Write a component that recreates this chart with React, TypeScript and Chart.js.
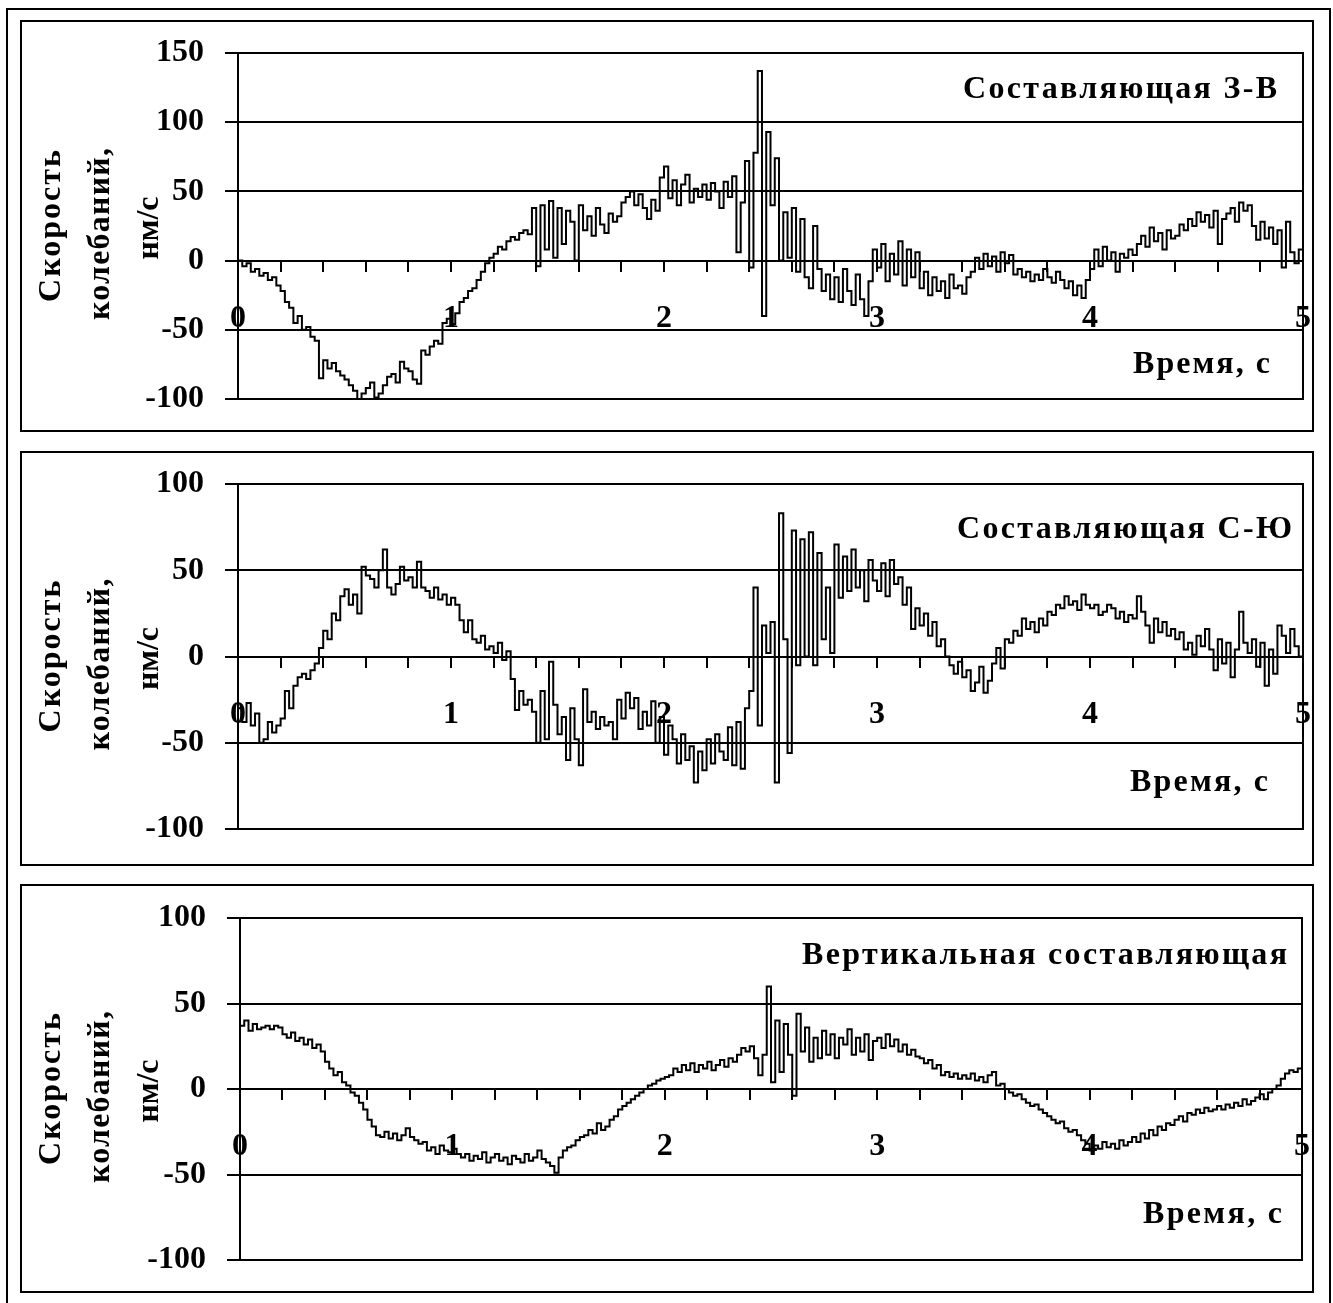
import React, { useEffect, useRef } from 'react';
import { Chart, registerables } from 'chart.js';

Chart.register(...registerables);

// ---- data -----------------------------------------------------------
const TIME_STEP = 0.02; // s, sampling of the traces below (t = 0 … 5 s)
const X_TICK_LABELS = ['0', '1', '2', '3', '4', '5'];
const Y_TICKS_EW = [-100, -50, 0, 50, 100, 150];
const Y_TICKS_NS = [-100, -50, 0, 50, 100];
const Y_TICKS_Z = [-100, -50, 0, 50, 100];

const Y_TITLE_LINES = ['Скорость', 'колебаний,', 'нм/с'];
const X_TITLE = 'Время, с';
const TITLE_EW = 'Составляющая З-В';
const TITLE_NS = 'Составляющая С-Ю';
const TITLE_Z = 'Вертикальная составляющая';

// East-West component, nm/s
const VALUES_EW = [
  0, -4, -2, -8, -6, -11, -9, -14, -12, -18,
  -22, -30, -34, -45, -40, -50, -48, -55, -58, -85,
  -72, -78, -74, -80, -83, -86, -90, -94, -100, -96,
  -92, -88, -99, -96, -90, -84, -82, -88, -73, -78,
  -80, -86, -89, -65, -68, -62, -58, -60, -45, -42,
  -46, -38, -30, -27, -22, -20, -14, -8, -2, 2,
  5, 10, 8, 14, 17, 15, 20, 22, 19, 38,
  -4, 40, 8, 43, 2, 38, 12, 36, 28, 0,
  40, 22, 32, 18, 38, 26, 20, 34, 28, 32,
  42, 46, 50, 40, 48, 38, 30, 44, 36, 60,
  68, 45, 58, 40, 55, 62, 42, 52, 46, 55,
  44, 56, 50, 38, 57, 46, 61, 6, 42, 72,
  -5, 78, 137, -40, 93, 40, 74, 0, 35, 2,
  38, -8, 30, -12, -20, 25, -6, -22, -10, -28,
  -12, -30, -6, -22, -32, -10, -28, -40, -15, 8,
  -5, 12, -15, 5, -10, 14, -18, 8, -12, 6,
  -20, -8, -25, -12, -22, -15, -27, -10, -20, -18,
  -24, -12, -8, 2, -6, 5, -4, 3, -8, 6,
  -2, 4, -10, -6, -12, -8, -15, -10, -14, -6,
  -12, -16, -8, -14, -20, -15, -25, -18, -27, -14,
  -6, 8, -4, 10, 0, 6, -8, 5, 2, 8,
  4, 12, 18, 10, 24, 14, 20, 8, 22, 16,
  18, 26, 22, 30, 25, 35, 28, 33, 24, 36,
  12, 30, 34, 38, 28, 42, 36, 40, 25, 15,
  28, 16, 24, 12, 22, -5, 28, 6, -2, 8,
  -20,
];

// North-South component, nm/s
const VALUES_NS = [
  -30, -38, -27, -40, -33, -50, -48, -38, -44, -40,
  -36, -20, -30, -17, -12, -10, -13, -8, -4, 5,
  15, 10, 25, 21, 35, 39, 30, 36, 25, 52,
  47, 45, 40, 50, 62, 40, 36, 42, 52, 44,
  46, 40, 55, 40, 38, 34, 40, 33, 36, 30,
  34, 30, 21, 14, 21, 10, 8, 12, 4, 6,
  2, 8, -2, 3, -13, -31, -20, -28, -25, -32,
  -50, -20, -48, -3, -28, -45, -35, -60, -30, -48,
  -63, -19, -38, -32, -42, -35, -40, -38, -48, -25,
  -36, -21, -30, -24, -42, -32, -40, -26, -50, -35,
  -57, -40, -48, -62, -45, -60, -52, -73, -55, -66,
  -48, -62, -45, -55, -60, -41, -63, -38, -65, -30,
  -20, 40, -40, 18, 2, 20, -73, 83, 10, -56,
  73, -5, 68, 0, 72, -5, 60, 10, 40, 2,
  65, 34, 58, 38, 62, 40, 50, 32, 56, 44,
  38, 54, 35, 56, 42, 46, 30, 40, 16, 28,
  18, 25, 12, 20, 6, 10, 0, -5, -10, -3,
  -12, -8, -20, -15, -6, -21, -14, -4, 5, -7,
  10, 8, 15, 12, 22, 16, 20, 14, 22, 18,
  26, 24, 30, 28, 35, 30, 32, 27, 36, 30,
  28, 30, 24, 26, 30, 28, 22, 26, 20, 24,
  22, 35, 26, 18, 8, 22, 14, 20, 12, 16,
  10, 14, 4, 8, 1, 12, 6, 16, 4, -8,
  10, -4, 8, -12, 4, 26, 8, 2, 10, -6,
  8, -17, 4, -10, 18, 12, 2, 16, 6, 0,
  -5,
];

// Vertical component, nm/s
const VALUES_Z = [
  37, 40, 34, 38, 35, 36, 37, 35, 37, 36,
  32, 30, 33, 28, 30, 26, 29, 24, 26, 22,
  16, 12, 8, 10, 4, 2, -2, -4, -8, -12,
  -18, -22, -27, -28, -25, -29, -26, -30, -27, -23,
  -28, -30, -32, -31, -36, -34, -38, -33, -36, -37,
  -35, -38, -40, -38, -42, -39, -41, -37, -43, -40,
  -38, -42, -40, -44, -39, -41, -43, -38, -42, -40,
  -36, -41, -43, -45, -49, -40, -36, -34, -33, -30,
  -28, -27, -24, -26, -20, -24, -22, -18, -16, -12,
  -10, -8, -6, -4, -2, 0, 2, 3, 5, 6,
  7, 8, 12, 10, 14, 11, 15, 10, 14, 12,
  16, 11, 14, 17, 13, 18, 16, 20, 24, 22,
  25, 18, 8, 20, 60, 4, 40, 10, 38, 20,
  -4, 44, 22, 36, 16, 30, 18, 34, 20, 32,
  18, 30, 26, 35, 20, 30, 22, 32, 17, 28,
  30, 24, 32, 25, 29, 22, 26, 20, 23, 19,
  18, 15, 17, 12, 14, 8, 10, 7, 9, 6,
  8, 6, 9, 5, 7, 4, 8, 10, 2, 3,
  0, -2, -4, -3, -6, -8, -10, -9, -12, -14,
  -16, -18, -20, -19, -23, -25, -24, -27, -30, -32,
  -36, -33, -35, -31, -34, -32, -35, -30, -33, -31,
  -28, -31, -26, -29, -24, -27, -22, -24, -20, -21,
  -18, -16, -19, -14, -15, -12, -14, -11, -13, -12,
  -10, -12, -9, -11, -8, -10, -6, -9, -7, -5,
  -3, -6, -2, 0, 2, 6, 9, 11, 10, 12,
  12,
];

// ---- layout / style ---------------------------------------------------
const FONT_FAMILY = "'Liberation Serif', 'Times New Roman', serif";
const TICK_FONT = { family: FONT_FAMILY, size: 32, weight: 'bold' as const };
const TEXT_FONT = `bold 32px ${FONT_FAMILY}`;

interface PanelCfg {
  values: number[];
  yTicks: number[];
  title: string;
  frameTop: number;
  frameHeight: number;
  canvasTop: number;
  canvasHeight: number;
  plotTop: number;
  plotBottom: number;
  axisX: number;
  plotRight: number;
  titleX: [number, number];
  titleBase: number;
  xTitleX: [number, number];
  xTitleBase: number;
}

const CANVAS_LEFT = 22;
const CANVAS_WIDTH = 1290;

const PANELS: PanelCfg[] = [
  {
    values: VALUES_EW, yTicks: Y_TICKS_EW, title: TITLE_EW,
    frameTop: 20, frameHeight: 412, canvasTop: 22, canvasHeight: 408,
    plotTop: 53, plotBottom: 399, axisX: 238, plotRight: 1303,
    titleX: [963, 1277], titleBase: 98, xTitleX: [1133, 1270], xTitleBase: 373,
  },
  {
    values: VALUES_NS, yTicks: Y_TICKS_NS, title: TITLE_NS,
    frameTop: 451, frameHeight: 415, canvasTop: 453, canvasHeight: 411,
    plotTop: 484, plotBottom: 829, axisX: 238, plotRight: 1303,
    titleX: [957, 1292], titleBase: 538, xTitleX: [1130, 1268], xTitleBase: 791,
  },
  {
    values: VALUES_Z, yTicks: Y_TICKS_Z, title: TITLE_Z,
    frameTop: 884, frameHeight: 409, canvasTop: 886, canvasHeight: 405,
    plotTop: 918, plotBottom: 1260, axisX: 240, plotRight: 1302,
    titleX: [802, 1287], titleBase: 964, xTitleX: [1143, 1282], xTitleBase: 1223,
  },
];

// y-title lines: baseline x (absolute), vertical offset from plot centre, length
const Y_TITLE_GEOM = [
  { baseX: 60, dy: 0, len: 152 },
  { baseX: 109, dy: 8, len: 172 },
  { baseX: 158, dy: 2, len: 63 },
];

function drawSpaced(ctx: CanvasRenderingContext2D, text: string, x0: number, x1: number, y: number) {
  (ctx as any).letterSpacing = '0px';
  ctx.textAlign = 'left';
  ctx.textBaseline = 'alphabetic';
  const w = ctx.measureText(text).width;
  const n = Array.from(text).length;
  const ls = n > 1 ? (x1 - x0 - w) / (n - 1) : 0;
  (ctx as any).letterSpacing = `${ls}px`;
  ctx.fillText(text, x0, y);
  (ctx as any).letterSpacing = '0px';
}

const decorPlugin = {
  id: 'decor',
  afterDraw(chart: any, _args: any, opts: any) {
    const cfg: PanelCfg = opts.cfg;
    if (!cfg) return;
    const { ctx, chartArea } = chart;
    const ox = CANVAS_LEFT;
    const oy = cfg.canvasTop;
    ctx.save();
    // right edge of the plot area
    ctx.strokeStyle = '#000';
    ctx.lineWidth = 2;
    ctx.beginPath();
    const rx = Math.round(chartArea.right);
    ctx.moveTo(rx, chartArea.top - 1);
    ctx.lineTo(rx, chartArea.bottom + 1);
    ctx.stroke();

    ctx.fillStyle = '#000';
    ctx.font = TEXT_FONT;
    drawSpaced(ctx, cfg.title, cfg.titleX[0] - ox, cfg.titleX[1] - ox, cfg.titleBase - oy);
    drawSpaced(ctx, X_TITLE, cfg.xTitleX[0] - ox, cfg.xTitleX[1] - ox, cfg.xTitleBase - oy);

    const centerY = (chartArea.top + chartArea.bottom) / 2;
    Y_TITLE_LINES.forEach((line, i) => {
      const g = Y_TITLE_GEOM[i];
      ctx.save();
      ctx.translate(g.baseX - ox, centerY + g.dy);
      ctx.rotate(-Math.PI / 2);
      drawSpaced(ctx, line, -g.len / 2, g.len / 2, 0);
      ctx.restore();
    });
    ctx.restore();
  },
};

function Panel({ cfg }: { cfg: PanelCfg }) {
  const ref = useRef<HTMLCanvasElement | null>(null);

  useEffect(() => {
    const canvas = ref.current;
    if (!canvas) return;
    const points = cfg.values.map((v, i) => ({ x: Math.round(i * TIME_STEP * 100) / 100, y: v }));
    const yMin = cfg.yTicks[0];
    const yMax = cfg.yTicks[cfg.yTicks.length - 1];
    const yStep = cfg.yTicks[1] - cfg.yTicks[0];

    const chart = new Chart(canvas, {
      type: 'line',
      data: {
        datasets: [
          {
            data: points,
            borderColor: '#000',
            borderWidth: 2,
            pointRadius: 0,
            stepped: true,
            fill: false,
            tension: 0,
          },
        ],
      },
      options: {
        responsive: false,
        animation: false,
        events: [],
        layout: {
          padding: {
            left: 0,
            top: cfg.plotTop - cfg.canvasTop,
            right: CANVAS_LEFT + CANVAS_WIDTH - cfg.plotRight,
            bottom: cfg.canvasTop + cfg.canvasHeight - cfg.plotBottom,
          },
        },
        plugins: {
          legend: { display: false },
          tooltip: { enabled: false },
          title: { display: false },
          decor: { cfg },
        } as any,
        scales: {
          x: {
            type: 'linear',
            min: 0,
            max: 5,
            position: { y: 0 } as any,
            afterFit: (s: any) => {
              s.height = 0;
              s.paddingLeft = 0;
              s.paddingRight = 0;
              s.paddingTop = 0;
              s.paddingBottom = 0;
            },
            grid: { drawOnChartArea: false, drawTicks: true, tickLength: 10, color: '#000', lineWidth: 2 },
            border: { display: true, color: '#000', width: 2 },
            ticks: {
              stepSize: 0.2,
              autoSkip: false,
              maxRotation: 0,
              minRotation: 0,
              padding: 29,
              color: '#000',
              font: TICK_FONT,
              callback: (value: any) => {
                const v = Number(value);
                const r = Math.round(v);
                return Math.abs(v - r) < 1e-6 ? X_TICK_LABELS[r] : '';
              },
            },
          },
          y: {
            type: 'linear',
            min: yMin,
            max: yMax,
            afterFit: (s: any) => {
              s.width = cfg.axisX - CANVAS_LEFT;
              s.paddingTop = 0;
              s.paddingBottom = 0;
            },
            grid: { color: '#000', lineWidth: 2, drawTicks: true, tickLength: 13 },
            border: { display: true, color: '#000', width: 2 },
            ticks: { stepSize: yStep, padding: 21, color: '#000', font: TICK_FONT },
          },
        },
      } as any,
      plugins: [decorPlugin],
    });
    return () => chart.destroy();
  }, [cfg]);

  return (
    <canvas
      ref={ref}
      width={CANVAS_WIDTH}
      height={cfg.canvasHeight}
      style={{ position: 'absolute', left: CANVAS_LEFT, top: cfg.canvasTop, width: CANVAS_WIDTH, height: cfg.canvasHeight }}
    />
  );
}

export default function App() {
  return (
    <div>
      <div
        style={{
          position: 'absolute', left: 6, top: 8, width: 1325, height: 1295,
          border: '2px solid #000', borderBottom: 'none', boxSizing: 'border-box', background: '#fff',
        }}
      />
      {PANELS.map((p, i) => (
        <div
          key={`f${i}`}
          style={{
            position: 'absolute', left: 20, top: p.frameTop, width: 1294, height: p.frameHeight,
            border: '2px solid #000', boxSizing: 'border-box',
          }}
        />
      ))}
      {PANELS.map((p, i) => (
        <Panel key={`c${i}`} cfg={p} />
      ))}
    </div>
  );
}
